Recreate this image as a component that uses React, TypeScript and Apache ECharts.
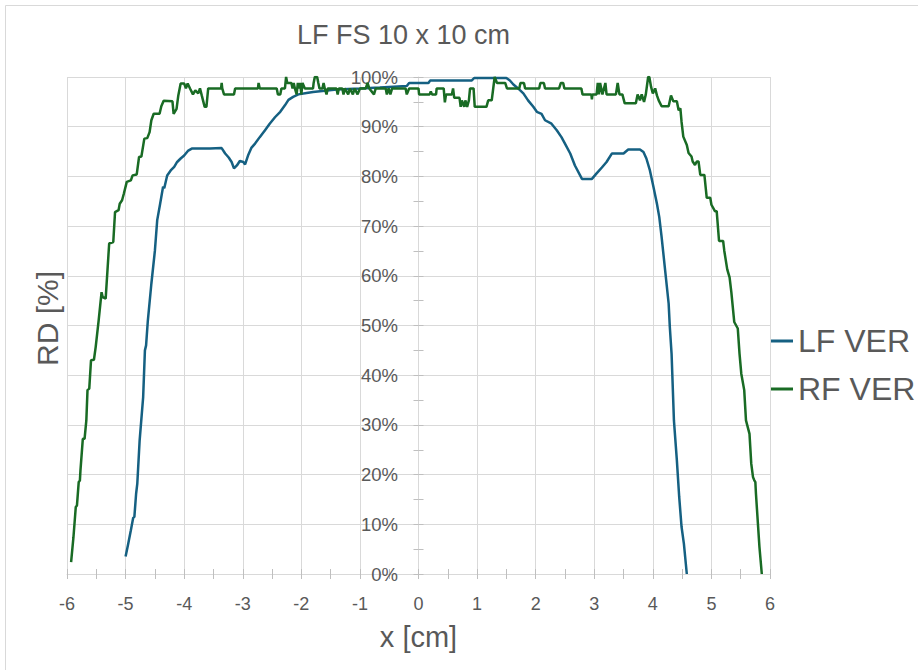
import React, { useEffect, useRef } from "react";
import * as echarts from "echarts";

const chartTitle = "LF FS 10 x 10 cm";
const seriesNames = ["LF VER", "RF VER"];
const xAxisName = "x [cm]";
const yAxisName = "RD [%]";

const lfX = [-5.0, -4.96, -4.91, -4.87, -4.85, -4.82, -4.8, -4.76, -4.7, -4.67, -4.65, -4.62, -4.56, -4.5, -4.46, -4.41, -4.36, -4.34, -4.29, -4.23, -4.17, -4.12, -4.06, -4.0, -3.93, -3.87, -3.56, -3.36, -3.3, -3.24, -3.19, -3.15, -3.1, -3.05, -2.99, -2.96, -2.91, -2.85, -2.79, -2.71, -2.62, -2.54, -2.45, -2.36, -2.28, -2.22, -2.14, -2.05, -1.91, -1.8, -1.4, -1.0, -0.66, -0.2, -0.16, 0.17, 0.2, 0.91, 0.95, 1.5, 1.56, 1.62, 1.7, 1.79, 1.87, 1.96, 2.02, 2.1, 2.16, 2.27, 2.36, 2.44, 2.5, 2.59, 2.67, 2.79, 2.96, 3.04, 3.13, 3.21, 3.3, 3.5, 3.58, 3.78, 3.84, 3.89, 3.95, 4.01, 4.07, 4.11, 4.15, 4.21, 4.27, 4.29, 4.32, 4.36, 4.41, 4.45, 4.49, 4.53, 4.58];
const lfY = [3.5, 5.8, 8.8, 11.3, 11.5, 16.2, 18.2, 26.9, 35.6, 45.0, 46.0, 51.0, 58.4, 65.0, 71.2, 74.5, 77.9, 77.6, 80.2, 81.2, 81.9, 82.9, 83.6, 84.2, 85.2, 85.6, 85.6, 85.7, 84.6, 83.8, 82.9, 81.6, 82.2, 83.1, 82.9, 82.4, 84.2, 85.8, 86.6, 87.9, 89.3, 90.6, 91.9, 93.0, 94.3, 95.4, 96.0, 96.5, 96.8, 97.0, 97.5, 97.7, 97.9, 98.2, 98.8, 98.8, 99.3, 99.3, 99.8, 99.8, 99.3, 98.5, 97.7, 96.7, 95.3, 94.0, 93.0, 92.6, 91.3, 90.6, 89.3, 87.9, 86.6, 84.6, 82.2, 79.5, 79.5, 80.6, 81.8, 82.9, 84.6, 84.6, 85.4, 85.4, 84.9, 83.6, 81.2, 77.9, 74.5, 71.8, 67.8, 61.1, 54.4, 49.7, 44.3, 30.9, 22.9, 15.5, 9.5, 6.1, 0];

const rfX = [-5.93, -5.89, -5.85, -5.83, -5.8, -5.78, -5.77, -5.73, -5.7, -5.67, -5.65, -5.62, -5.59, -5.54, -5.51, -5.46, -5.41, -5.39, -5.34, -5.28, -5.21, -5.18, -5.12, -5.1, -5.06, -5.03, -4.98, -4.91, -4.88, -4.81, -4.77, -4.73, -4.68, -4.63, -4.59, -4.56, -4.52, -4.42, -4.39, -4.35, -4.2, -4.18, -4.13, -4.1, -4.06, -4.0, -3.97, -3.94, -3.9, -3.85, -3.81, -3.76, -3.73, -3.7, -3.65, -3.62, -3.59, -3.37, -3.36, -3.35, -3.32, -3.15, -3.13, -2.74, -2.73, -2.71, -2.42, -2.4, -2.36, -2.34, -2.28, -2.26, -2.24, -2.17, -2.15, -2.13, -2.11, -2.08, -2.06, -2.04, -2.02, -2.0, -1.98, -1.94, -1.8, -1.79, -1.77, -1.73, -1.71, -1.69, -1.64, -1.62, -1.6, -1.57, -1.55, -1.4, -1.38, -1.36, -1.3, -1.28, -1.26, -1.2, -1.17, -1.12, -1.09, -1.04, -1.0, -0.9, -0.87, -0.84, -0.76, -0.73, -0.56, -0.54, -0.51, -0.48, -0.45, -0.22, -0.2, -0.16, 0.0, 0.01, 0.19, 0.21, 0.23, 0.3, 0.31, 0.43, 0.45, 0.47, 0.57, 0.59, 0.61, 0.7, 0.72, 0.74, 0.78, 0.8, 0.83, 0.86, 0.88, 0.94, 0.96, 1.16, 1.19, 1.25, 1.3, 1.34, 1.48, 1.51, 1.72, 1.74, 1.8, 1.82, 2.06, 2.08, 2.14, 2.16, 2.4, 2.43, 2.47, 2.49, 2.78, 2.8, 2.95, 2.96, 2.97, 3.04, 3.06, 3.08, 3.1, 3.14, 3.19, 3.21, 3.37, 3.4, 3.43, 3.48, 3.52, 3.71, 3.74, 3.78, 3.81, 3.85, 3.88, 3.92, 3.94, 3.97, 4.0, 4.04, 4.07, 4.1, 4.15, 4.27, 4.31, 4.35, 4.41, 4.44, 4.47, 4.49, 4.52, 4.58, 4.61, 4.66, 4.68, 4.72, 4.75, 4.78, 4.81, 4.88, 4.92, 4.98, 5.0, 5.06, 5.09, 5.13, 5.2, 5.22, 5.27, 5.31, 5.34, 5.39, 5.45, 5.48, 5.51, 5.56, 5.59, 5.65, 5.68, 5.71, 5.73, 5.75, 5.76, 5.79, 5.82, 5.86];
const rfY = [2.4, 7.4, 13.5, 13.8, 18.5, 18.8, 20.9, 27.2, 27.2, 30.9, 37.0, 37.3, 43.0, 43.1, 45.7, 51.0, 56.7, 55.7, 55.4, 66.5, 66.8, 72.8, 73.2, 74.5, 75.2, 76.5, 78.9, 79.2, 80.2, 80.4, 83.9, 84.0, 87.6, 87.7, 88.9, 91.3, 92.6, 92.6, 94.1, 95.2, 95.1, 92.6, 93.6, 96.3, 98.7, 98.7, 97.7, 98.7, 97.7, 96.5, 97.3, 96.7, 97.7, 96.3, 94.0, 94.0, 97.7, 97.7, 98.8, 97.7, 96.5, 96.5, 97.7, 97.7, 98.8, 97.7, 97.7, 96.5, 96.5, 97.7, 97.7, 100, 98.8, 98.8, 97.7, 98.8, 97.7, 96.5, 98.8, 97.7, 98.8, 96.5, 98.8, 97.7, 97.7, 98.8, 100, 100, 98.8, 97.7, 97.7, 98.8, 97.7, 96.5, 97.7, 97.7, 96.5, 97.7, 97.7, 96.5, 97.7, 96.5, 97.7, 96.5, 97.7, 96.5, 97.7, 97.7, 98.8, 97.7, 96.5, 97.7, 97.7, 96.5, 97.7, 96.5, 97.7, 97.7, 96.5, 97.7, 97.7, 96.5, 96.5, 97.1, 96.5, 96.5, 97.7, 97.7, 94.9, 96.5, 96.5, 97.7, 95.8, 95.8, 94.0, 95.3, 94.0, 95.3, 94.0, 95.3, 97.7, 97.7, 94.0, 94.0, 95.3, 95.3, 100, 98.8, 98.8, 97.7, 97.7, 98.8, 98.8, 97.7, 97.7, 98.8, 98.8, 97.7, 97.7, 98.8, 98.8, 97.7, 97.7, 96.5, 96.5, 95.5, 96.5, 96.5, 98.8, 96.5, 98.8, 96.5, 98.8, 96.5, 96.5, 98.8, 96.5, 96.5, 94.7, 94.7, 96.5, 95.3, 96.5, 95.0, 96.5, 100, 100, 98.0, 96.7, 97.7, 96.3, 95.3, 94.1, 94.1, 96.3, 95.1, 95.1, 93.3, 93.7, 91.0, 88.0, 86.3, 84.7, 84.0, 83.0, 82.3, 83.0, 83.0, 80.3, 80.3, 75.7, 75.7, 74.3, 73.0, 73.0, 67.0, 67.0, 65.0, 61.3, 59.7, 56.7, 50.7, 49.4, 44.3, 40.3, 37.0, 30.9, 28.2, 22.2, 19.5, 18.9, 18.5, 16.2, 10.8, 5.4, 0];

const seriesColors = ["#156082", "#196B24"];

export default function App() {
  const ref = useRef<HTMLDivElement>(null);
  useEffect(() => {
    document.body.style.margin = "0";
    const chart = echarts.init(ref.current as HTMLDivElement, null, { renderer: "svg" });
    const font = "'Liberation Sans', Arial, sans-serif";
    const gray = "#595959";
    const gridColor = "#d9d9d9";
    const tickColor = "#bfbfbf";
    const pair = (xs: number[], ys: number[]) => xs.map((x, i) => [x, ys[i]]);
    const baseX = {
      type: "value",
      min: -6,
      max: 6,
      interval: 1,
      position: "bottom",
    };
    const baseY = {
      type: "value",
      min: 0,
      max: 100,
      interval: 10,
      position: "left",
    };
    chart.setOption({
      animation: false,
      backgroundColor: "#ffffff",
      textStyle: { fontFamily: font },
      title: {
        text: chartTitle,
        left: 297,
        top: 20,
        padding: 0,
        textStyle: { fontSize: 27, lineHeight: 30, fontWeight: "normal", color: gray, fontFamily: font },
      },
      legend: {
        orient: "vertical",
        left: 771,
        top: 325,
        padding: 0,
        icon: "rect",
        itemWidth: 22,
        itemHeight: 3,
        itemGap: 16,
        textStyle: { fontSize: 32, lineHeight: 32, color: gray, fontFamily: font },
        data: seriesNames,
      },
      grid: { left: 67, right: 148, top: 77, bottom: 96, containLabel: false, outerBoundsMode: "none" },
      xAxis: [
        {
          ...baseX,
          axisLine: { show: true, onZero: true, lineStyle: { color: gridColor, width: 1 } },
          axisTick: { show: true, length: 5, lineStyle: { color: tickColor } },
          minorTick: { show: true, splitNumber: 2, length: 5, lineStyle: { color: tickColor } },
          splitLine: { show: true, lineStyle: { color: gridColor, width: 1 } },
          axisLabel: { fontSize: 18, color: gray, margin: 21, fontFamily: font },
          name: xAxisName,
          nameLocation: "middle",
          nameGap: 48,
          nameTextStyle: { fontSize: 29, color: gray, fontFamily: font },
        },
        {
          ...baseX,
          axisLine: { show: false },
          axisTick: { show: true, inside: true, length: 5, lineStyle: { color: tickColor } },
          minorTick: { show: true, splitNumber: 2, length: 5, lineStyle: { color: tickColor } },
          splitLine: { show: false },
          axisLabel: { show: false },
        },
      ],
      yAxis: [
        {
          ...baseY,
          axisLine: { show: true, onZero: true, onZeroAxisIndex: 0, lineStyle: { color: gridColor, width: 1 } },
          axisTick: { show: true, length: 5, lineStyle: { color: tickColor } },
          minorTick: { show: true, splitNumber: 2, length: 5, lineStyle: { color: tickColor } },
          splitLine: { show: true, lineStyle: { color: gridColor, width: 1 } },
          axisLabel: { formatter: "{value}%", fontSize: 18.5, color: gray, margin: -331, fontFamily: font },
          name: yAxisName,
          nameLocation: "middle",
          nameRotate: 90,
          nameGap: 5,
          nameTextStyle: { fontSize: 30, color: gray, fontFamily: font, padding: [0, 0, 0, 14] },
        },
        {
          ...baseY,
          axisLine: { show: false, onZero: true, onZeroAxisIndex: 0 },
          axisTick: { show: true, inside: true, length: 5, lineStyle: { color: tickColor } },
          minorTick: { show: true, splitNumber: 2, length: 5, lineStyle: { color: tickColor } },
          splitLine: { show: false },
          axisLabel: { show: false },
        },
      ],
      graphic: [
        {
          type: "rect",
          silent: true,
          shape: { x: 5.5, y: 5.5, width: 1000, height: 1000 },
          style: { fill: "none", stroke: gridColor, lineWidth: 1 },
        },
      ],
      series: [
        {
          name: seriesNames[0],
          type: "line",
          color: seriesColors[0],
          data: pair(lfX, lfY),
          showSymbol: false,
          symbol: "none",
          lineStyle: { width: 2.5, color: seriesColors[0] },
          xAxisIndex: 0,
          yAxisIndex: 0,
        },
        {
          name: seriesNames[1],
          type: "line",
          color: seriesColors[1],
          data: pair(rfX, rfY),
          showSymbol: false,
          symbol: "none",
          lineStyle: { width: 2.5, color: seriesColors[1] },
          xAxisIndex: 0,
          yAxisIndex: 0,
        },
      ],
    });
    return () => chart.dispose();
  }, []);
  return <div ref={ref} style={{ width: 918, height: 670 }} />;
}
